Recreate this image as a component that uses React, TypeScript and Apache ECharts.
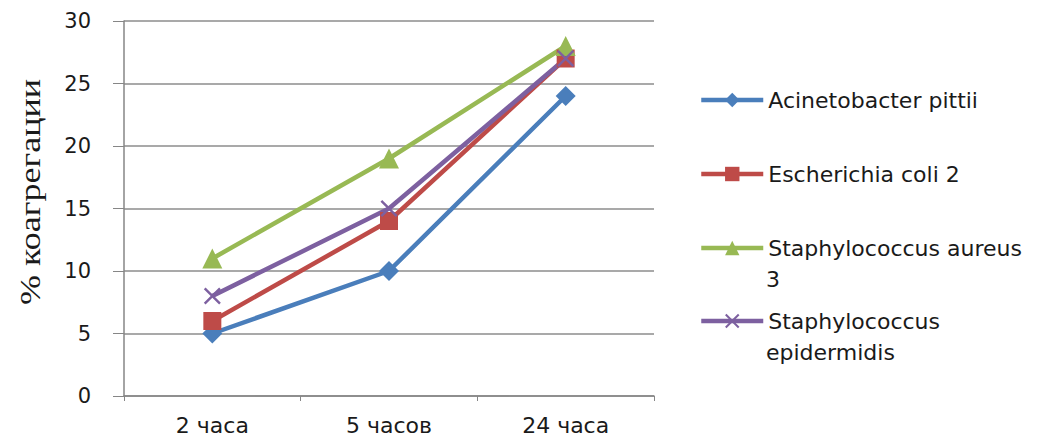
import React, { useEffect, useRef } from "react";
import * as echarts from "echarts";

const categories = ["2 часа", "5 часов", "24 часа"];
const acinetobacter = [5, 10, 24];
const ecoli = [6, 14, 27];
const saureus = [11, 19, 28];
const sepidermidis = [8, 15, 27];
const yTicks = { min: 0, max: 30, interval: 5 };
const seriesNames = [
  "Acinetobacter pittii",
  "Escherichia coli 2",
  "Staphylococcus aureus 3",
  "Staphylococcus epidermidis",
];

const X_PATH =
  "path://M0,1L1,0L5,4L9,0L10,1L6,5L10,9L9,10L5,6L1,10L0,9L4,5Z";

export default function App() {
  const ref = useRef<HTMLDivElement>(null);
  useEffect(() => {
    if (!ref.current) return;
    const chart = echarts.init(ref.current, null, { renderer: "svg" });
    const sans = "DejaVu Sans";
    const legendBase = {
      orient: "vertical",
      left: 699,
      padding: 0,
      itemWidth: 62,
      itemHeight: 18,
      itemGap: 0,
      lineStyle: { width: 4.5 },
      textStyle: { fontFamily: sans, fontSize: 22, color: "#1a1a1a", lineHeight: 26 },
    };
    const colors = ["#4A7EBB", "#BE4B48", "#98B954", "#7D60A0"];
    const lineSeries = (name: string, data: number[], color: string, symbol: string, size: number) => ({
      name,
      type: "line",
      data,
      symbol,
      symbolSize: size,
      showAllSymbol: true,
      lineStyle: { color, width: 4.5 },
      itemStyle: { color },
      z: 3,
    });
    chart.setOption({
      animation: false,
      backgroundColor: "#ffffff",
      grid: { left: 124, right: 409, top: 21, bottom: 39, containLabel: false },
      xAxis: {
        type: "category",
        data: categories,
        boundaryGap: true,
        axisLine: { lineStyle: { color: "#868686", width: 1.5 } },
        axisTick: { show: true, length: 5, lineStyle: { color: "#868686" } },
        axisLabel: { fontFamily: sans, fontSize: 22, color: "#1a1a1a", margin: 18 },
      },
      yAxis: {
        type: "value",
        min: yTicks.min,
        max: yTicks.max,
        interval: yTicks.interval,
        axisLine: { show: true, lineStyle: { color: "#868686", width: 1.5 } },
        axisTick: { show: true, length: 11, lineStyle: { color: "#868686" } },
        splitLine: { lineStyle: { color: "#8c8c8c", width: 1.5 } },
        axisLabel: { fontFamily: sans, fontSize: 21, color: "#1a1a1a", margin: 33 },
      },
      legend: [
        {
          ...legendBase,
          top: 87,
          data: [seriesNames[0]],
        },
        {
          ...legendBase,
          top: 161,
          data: [seriesNames[1]],
        },
        {
          ...legendBase,
          top: 235,
          data: [seriesNames[2]],
          formatter: () => "Staphylococcus aureus",
        },
        {
          ...legendBase,
          top: 308,
          data: [seriesNames[3]],
          formatter: () => "Staphylococcus",
        },
      ],
      graphic: [
        {
          type: "text",
          x: 30,
          y: 192,
          rotation: Math.PI / 2,
          scaleX: 1.2,
          style: {
            text: "% коагрегации",
            font: '30px "Liberation Serif"',
            fill: "#1a1a1a",
            align: "center",
            verticalAlign: "middle",
          },
        },
        {
          type: "text",
          x: 766,
          y: 279,
          style: {
            text: "3",
            font: '22px "DejaVu Sans"',
            fill: "#1a1a1a",
            align: "left",
            verticalAlign: "middle",
          },
        },
        {
          type: "text",
          x: 766,
          y: 352,
          style: {
            text: "epidermidis",
            font: '22px "DejaVu Sans"',
            fill: "#1a1a1a",
            align: "left",
            verticalAlign: "middle",
          },
        },
      ],
      series: [
        lineSeries(seriesNames[0], acinetobacter, colors[0], "diamond", 20),
        lineSeries(seriesNames[1], ecoli, colors[1], "rect", 18),
        lineSeries(seriesNames[2], saureus, colors[2], "triangle", 20),
        lineSeries(seriesNames[3], sepidermidis, colors[3], X_PATH, 17),
      ],
    });
    return () => chart.dispose();
  }, []);
  return <div ref={ref} style={{ width: 1063, height: 436, position: "absolute", left: 0, top: 0 }} />;
}
